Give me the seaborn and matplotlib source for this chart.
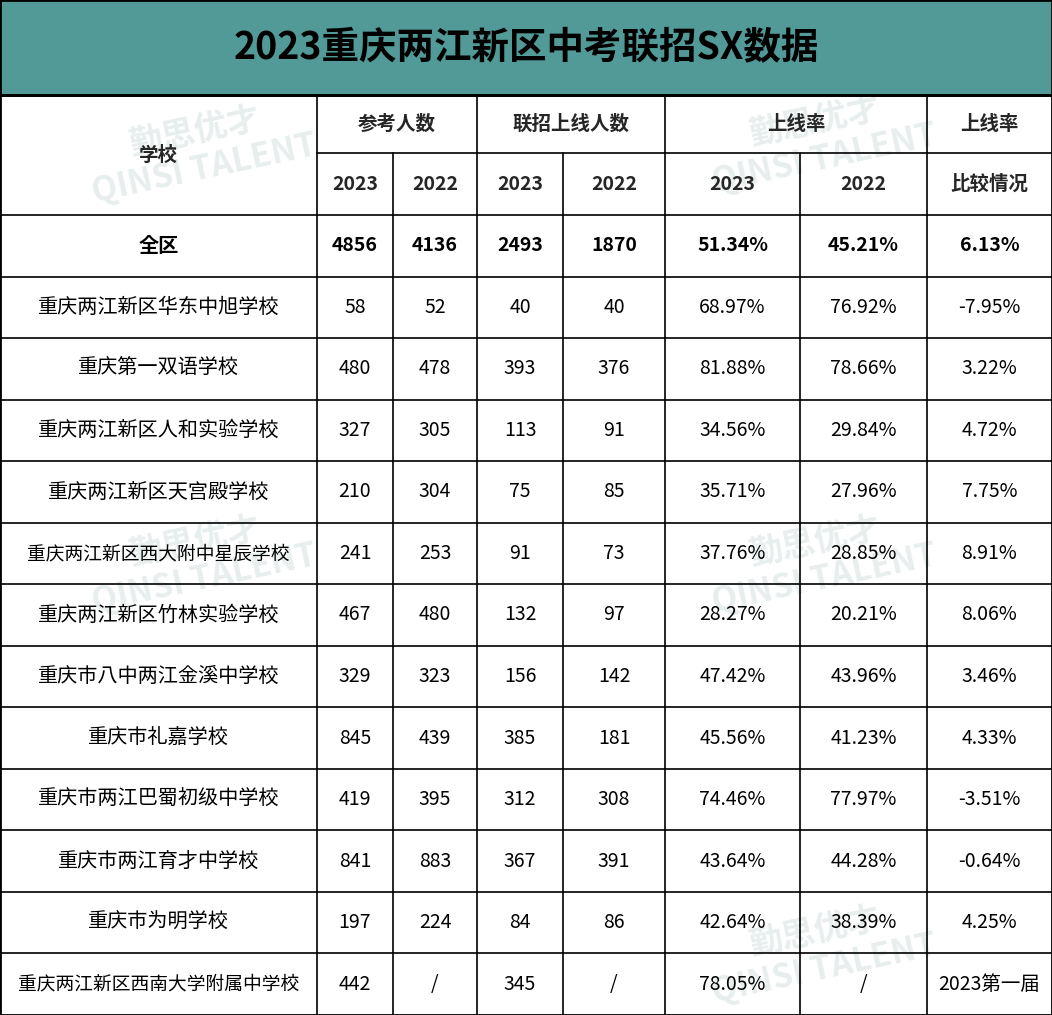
import matplotlib
matplotlib.use("Agg")
import matplotlib.pyplot as plt
from matplotlib import font_manager
import seaborn as sns

sns.set_theme(style="white")
names = sorted({f.name for f in font_manager.fontManager.ttflist})
cjk = [n for n in names if "Sans CJK SC" in n] + [n for n in names if "Sans CJK" in n] \
    + [n for n in names if "Sans" in n and ("SC" in n or "CJK" in n)]
fam = (cjk[:1] if cjk else []) + ["DejaVu Sans"]
plt.rcParams["font.family"] = "sans-serif"
plt.rcParams["font.sans-serif"] = fam
plt.rcParams["axes.unicode_minus"] = False

title = "2023重庆两江新区中考联招SX数据"
schools = ["全区", "重庆两江新区华东中旭学校", "重庆第一双语学校", "重庆两江新区人和实验学校",
           "重庆两江新区天宫殿学校", "重庆两江新区西大附中星辰学校", "重庆两江新区竹林实验学校",
           "重庆市八中两江金溪中学校", "重庆市礼嘉学校", "重庆市两江巴蜀初级中学校",
           "重庆市两江育才中学校", "重庆市为明学校", "重庆两江新区西南大学附属中学校"]
exam_2023 = ["4856", "58", "480", "327", "210", "241", "467", "329", "845", "419", "841", "197", "442"]
exam_2022 = ["4136", "52", "478", "305", "304", "253", "480", "323", "439", "395", "883", "224", "/"]
pass_2023 = ["2493", "40", "393", "113", "75", "91", "132", "156", "385", "312", "367", "84", "345"]
pass_2022 = ["1870", "40", "376", "91", "85", "73", "97", "142", "181", "308", "391", "86", "/"]
rate_2023 = ["51.34%", "68.97%", "81.88%", "34.56%", "35.71%", "37.76%", "28.27%", "47.42%",
             "45.56%", "74.46%", "43.64%", "42.64%", "78.05%"]
rate_2022 = ["45.21%", "76.92%", "78.66%", "29.84%", "27.96%", "28.85%", "20.21%", "43.96%",
             "41.23%", "77.97%", "44.28%", "38.39%", "/"]
diff = ["6.13%", "-7.95%", "3.22%", "4.72%", "7.75%", "8.91%", "8.06%", "3.46%", "4.33%",
        "-3.51%", "-0.64%", "4.25%", "2023第一届"]

W, H = 1052, 1015
fig = plt.figure(figsize=(W / 100, H / 100), dpi=100)
ax = fig.add_axes([0, 0, 1, 1])
ax.set_xlim(0, W)
ax.set_ylim(H, 0)
ax.axis("off")

cols = [0, 317, 393, 477, 563, 665, 800, 927, W]
h1, h2, d0 = 95, 153, 215
rh = (H - d0) / 13

ax.add_patch(plt.Rectangle((0, 0), W, h1, facecolor="#519a97", edgecolor="black", lw=2))
ax.text(W / 2, h1 / 2, "  ".join(title[:4].split()) and title, ha="center", va="center",
        fontsize=27, fontweight="bold", color="black")

for (x, y) in [(200, 150), (820, 140), (820, 560), (200, 560), (820, 950)]:
    ax.text(x, y, "勤思优才\nQINSI TALENT", ha="center", va="center", fontsize=24,
            color="#e8eeee", rotation=12, zorder=0, fontweight="bold")

lc, lw = "black", 1.2
ax.plot([0, W, W, 0, 0], [h1, h1, H, H, h1], color=lc, lw=2)
ax.plot([cols[1], W], [h2, h2], color=lc, lw=lw)
for i in range(13):
    y = d0 + i * rh
    ax.plot([0, W], [y, y], color=lc, lw=lw)
for j, x in enumerate(cols[1:-1], start=1):
    y0 = h2 if j in (2, 4, 6) else h1
    ax.plot([x, x], [y0, H], color=lc, lw=lw)

def cx(j):
    return (cols[j] + cols[j + 1]) / 2

hf = 14
ax.text(cx(0), (h1 + d0) / 2, "学校", ha="center", va="center", fontsize=hf, fontweight="bold")
for j, lab in [(1, "参考人数"), (3, "联招上线人数"), (5, "上线率")]:
    ax.text((cols[j] + cols[j + 2]) / 2, (h1 + h2) / 2, lab, ha="center", va="center",
            fontsize=hf, fontweight="bold")
ax.text(cx(7), (h1 + h2) / 2, "上线率", ha="center", va="center", fontsize=hf, fontweight="bold")
for j, lab in enumerate(["2023", "2022", "2023", "2022", "2023", "2022", "比较情况"], start=1):
    ax.text(cx(j), (h2 + d0) / 2, lab, ha="center", va="center", fontsize=hf, fontweight="bold")

columns = [schools, exam_2023, exam_2022, pass_2023, pass_2022, rate_2023, rate_2022, diff]
for i in range(13):
    y = d0 + (i + 0.5) * rh
    for j, col in enumerate(columns):
        fs = 14.5 if j == 0 else 14
        if j == 0 and len(col[i]) >= 14:
            fs = 13.5
        if j == 7 and len(col[i]) > 7:
            fs = 12.5
        ax.text(cx(j), y, col[i], ha="center", va="center",
                fontsize=fs, fontweight="bold" if i == 0 else "normal", color="black")

fig.savefig("out.png", dpi=100, facecolor="white")
